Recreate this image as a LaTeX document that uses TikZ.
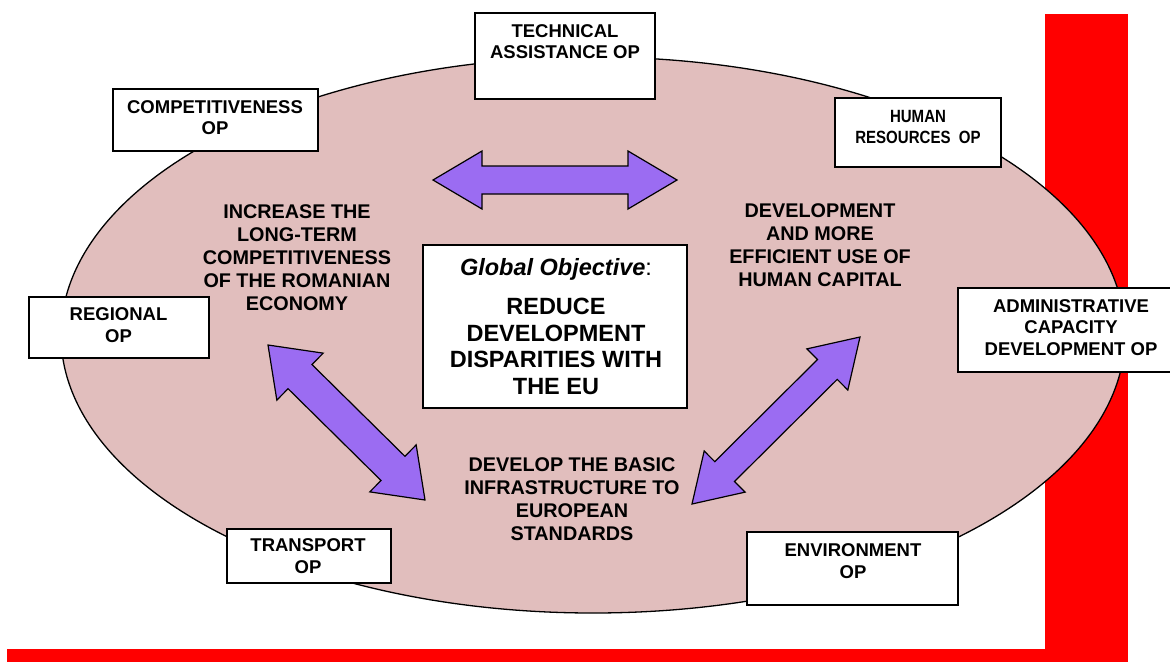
\documentclass[tikz,border=0pt]{standalone}
\usepackage{fontspec}
\setmainfont{Liberation Sans}
\newfontfamily\narrowfont{Liberation Sans}[FakeStretch=0.85]
\usetikzlibrary{calc,shapes.geometric}
\definecolor{ellfill}{RGB}{225,190,189}
\definecolor{arrfill}{RGB}{155,108,242}
\definecolor{redbar}{RGB}{255,0,0}
\tikzset{
  opbox/.style={draw=black, line width=1.4pt, fill=white, inner sep=0pt},
  optext/.style={font=\fontsize{18.5}{21.5}\selectfont\bfseries, align=center, inner sep=0pt},
  goaltext/.style={font=\fontsize{19.8}{23}\selectfont\bfseries, align=center, inner sep=0pt},
  bigtext/.style={font=\fontsize{23.5}{26.5}\selectfont\bfseries, align=center, inner sep=0pt},
  barrow/.style={draw=black, line width=1.2pt, fill=arrfill, line join=miter},
  redfill/.style={fill=redbar, draw=none},
}
% #1 tip A, #2 tip B, #3 head length, #4 head half width, #5 shaft half width
\newcommand{\dblarrow}[5]{%
  \draw[barrow] (#1)
    -- ($(#1)!#3!(#2)!#4!90:(#2)$)
    -- ($(#1)!#3!(#2)!#5!90:(#2)$)
    -- ($(#2)!#3!(#1)!#5!-90:(#1)$)
    -- ($(#2)!#3!(#1)!#4!-90:(#1)$)
    -- (#2)
    -- ($(#2)!#3!(#1)!#4!90:(#1)$)
    -- ($(#2)!#3!(#1)!#5!90:(#1)$)
    -- ($(#1)!#3!(#2)!#5!-90:(#2)$)
    -- ($(#1)!#3!(#2)!#4!-90:(#2)$)
    -- cycle;}
\begin{document}
\begin{tikzpicture}[x=1pt, y=-1pt]
\useasboundingbox (0,0) rectangle (1170,662);
\clip (0,0) rectangle (1170,662);
% red frame bars
\fill[redfill] (1045,14) rectangle (1128,662);
\fill[redfill] (7,649) rectangle (1128,662);
% ellipse
\node[draw=black, line width=1.3pt, fill=ellfill, ellipse, minimum width=1064pt, minimum height=556pt, inner sep=0pt] (ell) at (593,335) {};
% OP boxes
\node[opbox, minimum width=180pt, minimum height=86pt] (ta) at (565,56) {};
\node[optext] (tatext) at (565,41.5) {TECHNICAL\\ASSISTANCE OP};
\node[opbox, minimum width=205pt, minimum height=62pt] (comp) at (215.5,120) {};
\node[optext] (comptext) at (215,117.5) {COMPETITIVENESS\\OP};
\node[opbox, minimum width=166pt, minimum height=69pt] (hr) at (918,132.5) {};
\node[optext, font=\fontsize{17.7}{21}\selectfont\narrowfont\bfseries] (hrtext) at (918,126.5) {HUMAN\\RESOURCES\ \ OP};
\node[opbox, minimum width=180pt, minimum height=61pt] (reg) at (119,327.5) {};
\node[optext] (regtext) at (118.5,325) {REGIONAL\\OP};
\node[opbox, minimum width=226pt, minimum height=84pt] (adm) at (1071,330) {};
\node[optext] (admtext) at (1071,327.5) {ADMINISTRATIVE\\CAPACITY\\DEVELOPMENT OP};
\node[opbox, minimum width=164pt, minimum height=54pt] (tr) at (309,556) {};
\node[optext] (trtext) at (308,556) {TRANSPORT\\OP};
\node[opbox, minimum width=211pt, minimum height=73pt] (env) at (852.5,568.5) {};
\node[optext] (envtext) at (853,561) {ENVIRONMENT\\OP};
% central box
\node[opbox, minimum width=264pt, minimum height=163pt] (goal) at (555,326.5) {};
\node[bigtext, anchor=base] (goalhead) at (556,275.4) {{\itshape Global Objective}{\mdseries :}};
\node[bigtext] (goalbody) at (556,346.5) {REDUCE\\DEVELOPMENT\\DISPARITIES WITH\\THE EU};
% objectives
\node[goaltext] (obj1) at (297,257.5) {INCREASE THE\\LONG-TERM\\COMPETITIVENESS\\OF THE ROMANIAN\\ECONOMY};
\node[goaltext] (obj2) at (820,245.5) {DEVELOPMENT\\AND MORE\\EFFICIENT USE OF\\HUMAN CAPITAL};
\node[goaltext] (obj3) at (572,499) {DEVELOP THE BASIC\\INFRASTRUCTURE TO\\EUROPEAN\\STANDARDS};
% block arrows
\coordinate (h1) at (433,180);
\coordinate (h2) at (677,180);
\coordinate (l1) at (268,345);
\coordinate (l2) at (425,500);
\coordinate (r1) at (860,337);
\coordinate (r2) at (692,504);
\dblarrow{h1}{h2}{49pt}{29pt}{14pt}
\dblarrow{l1}{l2}{45pt}{33pt}{17pt}
\dblarrow{r1}{r2}{46pt}{29pt}{14pt}
\end{tikzpicture}
\end{document}
